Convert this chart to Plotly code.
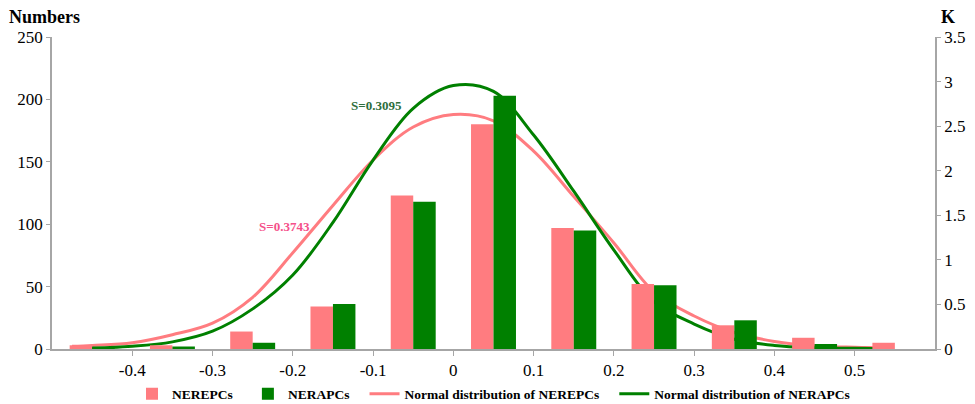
import plotly.graph_objects as go

# Histogram bins (centre of each 0.1-wide interval)
bins = [-0.45, -0.35, -0.25, -0.15, -0.05, 0.05, 0.15, 0.25, 0.35, 0.45, 0.55]
nerepcs_counts = [3, 3, 14, 34, 123, 180, 97, 52, 19, 9, 5]
nerapcs_counts = [1, 2, 5, 36, 118, 203, 95, 51, 23, 4, 0]

# Fitted normal curves (right axis, K)
nerepcs_curve_x = [-0.475, -0.45, -0.4, -0.35, -0.3, -0.25, -0.2, -0.15, -0.1, -0.05, 0.0,
                   0.05, 0.1, 0.15, 0.2, 0.25, 0.3, 0.35, 0.4, 0.45, 0.5, 0.545]
nerepcs_curve_k = [0.03, 0.04, 0.07, 0.16, 0.29, 0.58, 1.08, 1.61, 2.12, 2.49, 2.63,
                   2.56, 2.22, 1.71, 1.19, 0.64, 0.37, 0.185, 0.085, 0.035, 0.02, 0.015]
nerapcs_curve_x = [-0.45, -0.4, -0.35, -0.3, -0.25, -0.2, -0.15, -0.1, -0.05, 0.0,
                   0.05, 0.1, 0.15, 0.2, 0.25, 0.3, 0.35, 0.4, 0.45, 0.5, 0.545]
nerapcs_curve_k = [0.01, 0.03, 0.08, 0.20, 0.45, 0.83, 1.42, 2.12, 2.70, 2.955,
                   2.89, 2.40, 1.77, 1.11, 0.53, 0.28, 0.11, 0.04, 0.015, 0.008, 0.004]

x_ticks = [-0.4, -0.3, -0.2, -0.1, 0, 0.1, 0.2, 0.3, 0.4, 0.5]
x_tick_text = ["-0.4", "-0.3", "-0.2", "-0.1", "0", "0.1", "0.2", "0.3", "0.4", "0.5"]
left_ticks = [0, 50, 100, 150, 200, 250]
right_ticks = [0, 0.5, 1, 1.5, 2, 2.5, 3, 3.5]
right_tick_text = ["0", "0.5", "1", "1.5", "2", "2.5", "3", "3.5"]

PINK = "#FF7C80"
GREEN = "#008000"
AXIS = "#A6A6A6"
FONT = "Liberation Serif"
BAR_W = 0.028
PAD = "\u00a0\u00a0\u00a0"  # extra room after each legend entry

fig = go.Figure()

# Curves sit on the base axis (drawn underneath), bars on the overlaying axis
fig.add_trace(go.Scatter(
    x=nerepcs_curve_x, y=nerepcs_curve_k, mode="lines", yaxis="y",
    line=dict(color=PINK, width=3, shape="spline"),
    name="Normal distribution of NEREPCs" + PAD, legendrank=3))
fig.add_trace(go.Scatter(
    x=nerapcs_curve_x, y=nerapcs_curve_k, mode="lines", yaxis="y",
    line=dict(color=GREEN, width=3, shape="spline"),
    name="Normal distribution of NERAPCs", legendrank=4))
fig.add_trace(go.Bar(
    x=bins, y=nerepcs_counts, width=BAR_W, offset=-BAR_W, yaxis="y2",
    marker=dict(color=PINK, line=dict(width=0)), name="NEREPCs" + PAD, legendrank=1))
fig.add_trace(go.Bar(
    x=bins, y=nerapcs_counts, width=BAR_W, offset=0, yaxis="y2",
    marker=dict(color=GREEN, line=dict(width=0)), name="NERAPCs" + PAD, legendrank=2))

tick_font = dict(family=FONT, size=17, color="#000000")

fig.update_layout(
    width=975, height=404,
    margin=dict(l=52, r=40, t=37, b=55, autoexpand=False),
    paper_bgcolor="white", plot_bgcolor="white",
    barmode="overlay",
    font=dict(family=FONT, color="#000000"),
    xaxis=dict(
        range=[-0.5, 0.6], tickvals=x_ticks, ticktext=x_tick_text, automargin=False,
        showgrid=False, zeroline=False, showline=True, linecolor=AXIS, linewidth=1.5,
        ticks="outside", ticklen=5, tickcolor=AXIS, tickfont=tick_font,
    ),
    yaxis=dict(
        range=[0, 3.5], tickvals=right_ticks, ticktext=right_tick_text, side="right",
        automargin=False,
        showgrid=False, zeroline=False, showline=True, linecolor=AXIS, linewidth=1.5,
        ticks="outside", ticklen=4, tickcolor=AXIS, tickfont=tick_font,
    ),
    yaxis2=dict(
        range=[0, 250], tickvals=left_ticks, side="left", overlaying="y",
        automargin=False,
        showgrid=False, zeroline=False, showline=True, linecolor=AXIS, linewidth=1.5,
        ticks="outside", ticklen=4, tickcolor=AXIS, tickfont=tick_font,
    ),
    legend=dict(
        orientation="h", x=0.5, xanchor="center",
        yref="container", y=0.025, yanchor="middle",
        font=dict(family=FONT, size=13.5, color="#000000", weight="bold"),
        traceorder="normal", itemwidth=30,
    ),
    showlegend=True,
)

fig.add_annotation(text="<b>Numbers</b>", xref="paper", yref="paper", x=-0.051, y=1.065,
                   xanchor="left", yanchor="middle", showarrow=False,
                   font=dict(family=FONT, size=18, color="#000000"))
fig.add_annotation(text="<b>K</b>", xref="paper", yref="paper", x=1.0, y=1.065,
                   xanchor="left", yanchor="middle", xshift=4, showarrow=False,
                   font=dict(family=FONT, size=18, color="#000000"))
fig.add_annotation(text="<b>S=0.3095</b>", xref="x", yref="y2", x=-0.096, y=195,
                   showarrow=False, font=dict(family=FONT, size=13, color="#2E6E3C"))
fig.add_annotation(text="<b>S=0.3743</b>", xref="x", yref="y2", x=-0.21, y=98,
                   showarrow=False, font=dict(family=FONT, size=13, color="#F5508A"))

fig.write_html("out.html")
